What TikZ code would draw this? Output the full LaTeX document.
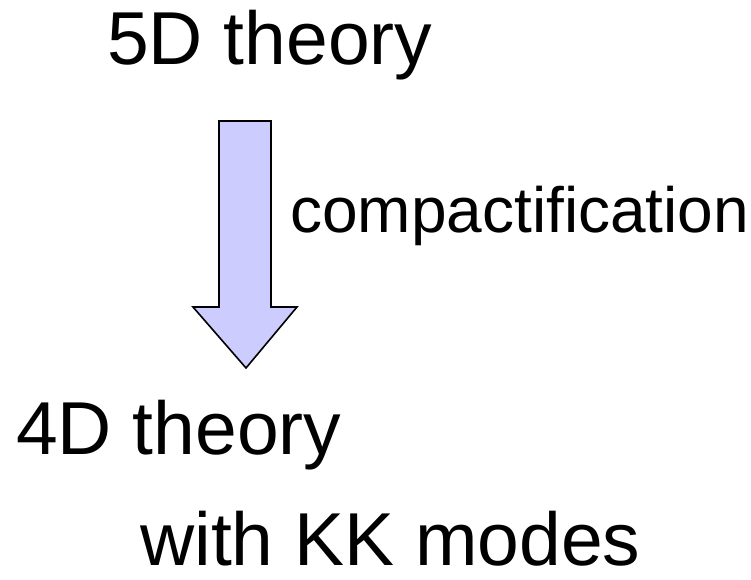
\documentclass[tikz,border=0pt]{standalone}
\usepackage{fontspec}
\setmainfont{Liberation Sans}
\usetikzlibrary{positioning}
\definecolor{lila}{RGB}{204,204,255}
\tikzset{
  etq/.style={inner sep=0pt, anchor=base west, font=\fontsize{75}{80}\selectfont},
  etqc/.style={inner sep=0pt, anchor=base west, font=\fontsize{64}{70}\selectfont},
  flecha/.style={draw=black, line width=1.6pt, fill=lila, line join=miter},
}
\begin{document}
\begin{tikzpicture}[x=1pt, y=1pt]
  \useasboundingbox (0,0) rectangle (751,579);
  \node[etq]  (t5)   at (107,514) {5D theory};
  \node[etqc] (comp) at (290,347) {compactification};
  \node[etq]  (t4)   at (16,125)  {4D theory};
  \node[etq]  (kk)   at (140,14)  {with KK modes};
  % block arrow from 5D down to 4D
  \draw[flecha] (219,458) -- (271,458) -- (271,272) -- (297,272) -- (246,211)
    -- (193,272) -- (219,272) -- cycle;
\end{tikzpicture}
\end{document}
